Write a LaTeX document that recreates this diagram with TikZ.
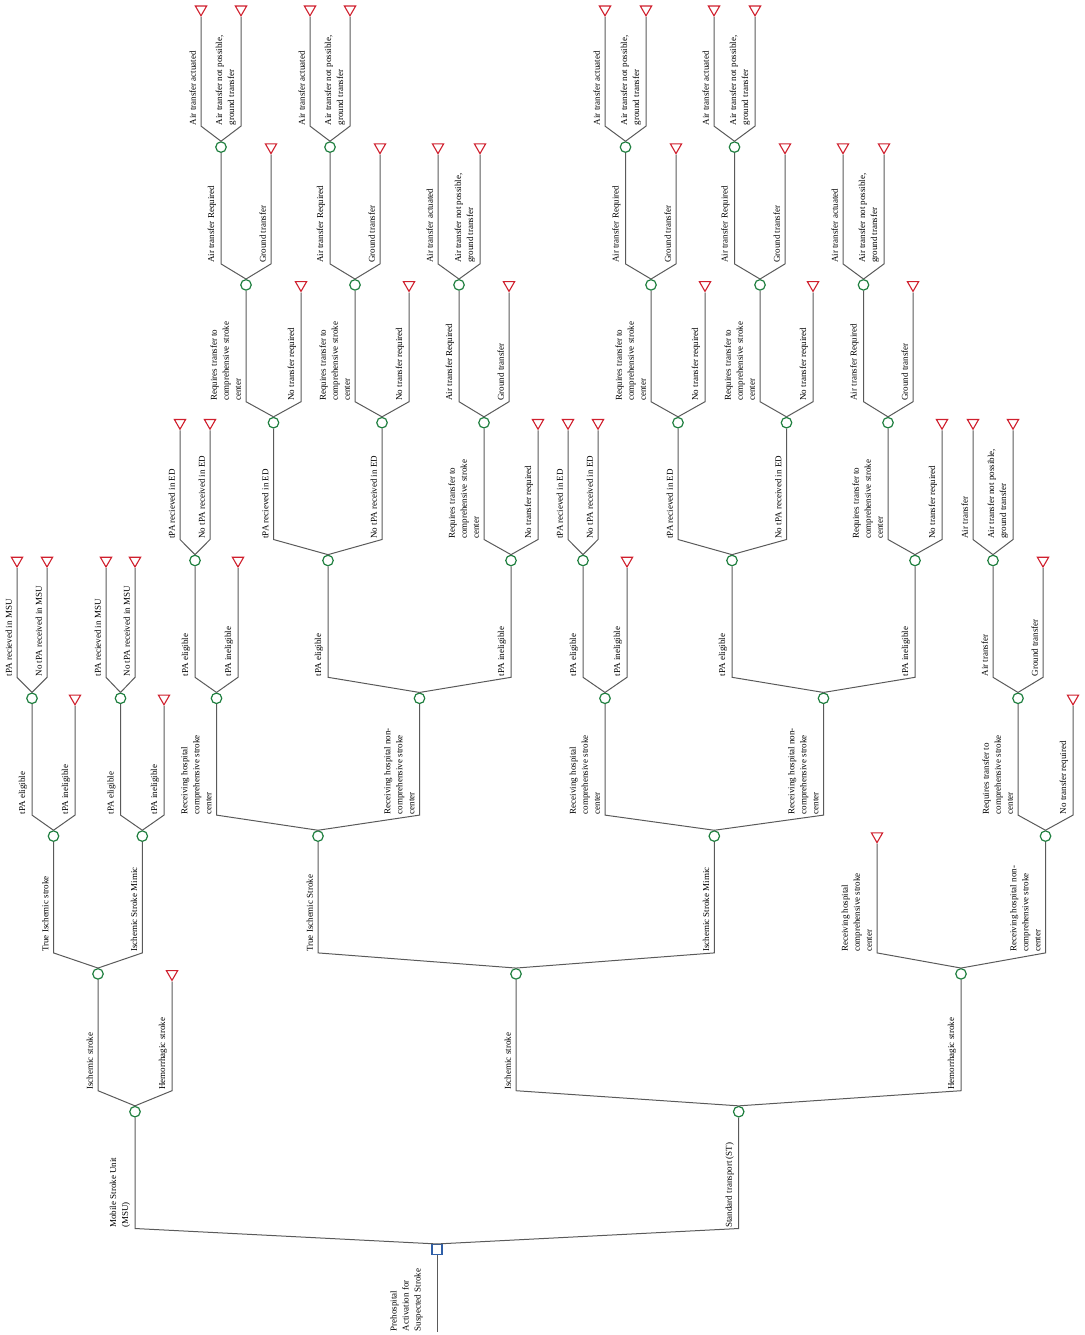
\documentclass[tikz,border=0pt]{standalone}
\usepackage{fontspec}
\setmainfont{Liberation Serif}
\usepackage{tikz}
\usetikzlibrary{shapes,arrows}
\usetikzlibrary{shapes.geometric}
\usetikzlibrary{calc}
\definecolor{chancegreen}{HTML}{1F7F3F}
\definecolor{termred}{HTML}{D0202E}
\definecolor{decblue}{HTML}{2F5FA8}
\definecolor{linegray}{HTML}{5A5A5A}
\tikzstyle{decision} = [rectangle, draw=decblue, fill=white, minimum size=10pt, inner sep=0pt, line width=1.1pt]
\tikzstyle{chance} = [circle, draw=chancegreen, fill=white, minimum size=10.5pt, inner sep=0pt, line width=1.2pt]
\tikzstyle{terminal} = [regular polygon, regular polygon sides=3, shape border rotate=180, draw=termred, fill=white, minimum size=13pt, inner sep=0pt, line width=1.1pt]
\tikzstyle{branch} = [draw=linegray, line width=1pt]
\tikzstyle{branchtext} = [rotate=90, anchor=south west, inner xsep=0.5pt, inner ysep=4.5pt, align=left, font=\fontsize{9}{12}\selectfont]

\begin{document}
\begin{tikzpicture}[x=1pt, y=-1pt]
    \useasboundingbox (0,0) rectangle (1084,1335);
    % heights where the branches bend
    \coordinate (b0) at (0,1228.5);
    \coordinate (b1) at (0,1090.7);
    \coordinate (b2) at (0,952.9);
    \coordinate (b3) at (0,815.1);
    \coordinate (b4) at (0,677.3);
    \coordinate (b5) at (0,539.5);
    \coordinate (b6) at (0,401.7);
    \coordinate (b7) at (0,263.9);
    \coordinate (b8) at (0,126.1);

    % decision
    \node [decision, name=root] at (437,1249.5) {};
    \coordinate (start) at (437,1332);
    \node [chance, name=msu] at (135,1111.7) {};
    \node [chance, name=st] at (738.7,1111.7) {};

    % level 2
    \node [chance, name=isc1] at (98,973.9) {};
    \node [terminal, name=hem1] at (172,973.9) {};
    \node [chance, name=isc2] at (516,973.9) {};
    \node [chance, name=hem2] at (961,973.9) {};

    % level 3
    \node [chance, name=tis1] at (53.5,836.1) {};
    \node [chance, name=mim1] at (142.3,836.1) {};
    \node [chance, name=tis2] at (318,836.1) {};
    \node [chance, name=mim2] at (714.3,836.1) {};
    \node [terminal, name=comph] at (877,836.1) {};
    \node [chance, name=ncomph] at (1045.5,836.1) {};

    % level 4
    \node [chance, name=tel1] at (32,698.3) {};
    \node [terminal, name=tin1] at (75,698.3) {};
    \node [chance, name=tel2] at (120.5,698.3) {};
    \node [terminal, name=tin2] at (164,698.3) {};
    \node [chance, name=comp2] at (216.5,698.3) {};
    \node [chance, name=ncomp2] at (419.5,698.3) {};
    \node [chance, name=comp3] at (605,698.3) {};
    \node [chance, name=ncomp3] at (823.5,698.3) {};
    \node [chance, name=rqH] at (1018,698.3) {};
    \node [terminal, name=ntH] at (1073,698.3) {};

    % level 5
    \node [terminal, name=tr1] at (17,560.5) {};
    \node [terminal, name=tn1] at (47,560.5) {};
    \node [terminal, name=tr2] at (106,560.5) {};
    \node [terminal, name=tn2] at (135,560.5) {};
    \node [chance, name=tel3] at (195,560.5) {};
    \node [terminal, name=tin3] at (238,560.5) {};
    \node [chance, name=tel4] at (328,560.5) {};
    \node [chance, name=tin4] at (511,560.5) {};
    \node [chance, name=tel5] at (583,560.5) {};
    \node [terminal, name=tin5] at (627,560.5) {};
    \node [chance, name=tel6] at (732,560.5) {};
    \node [chance, name=tin6] at (915,560.5) {};
    \node [chance, name=airH] at (993,560.5) {};
    \node [terminal, name=gtH] at (1043,560.5) {};

    % level 6
    \node [terminal, name=tr3] at (180,422.7) {};
    \node [terminal, name=tn3] at (210,422.7) {};
    \node [chance, name=trA] at (273.5,422.7) {};
    \node [chance, name=tnA] at (382,422.7) {};
    \node [chance, name=rqC] at (484,422.7) {};
    \node [terminal, name=ntC] at (538,422.7) {};
    \node [terminal, name=tr5] at (568,422.7) {};
    \node [terminal, name=tn5] at (598,422.7) {};
    \node [chance, name=trD] at (678,422.7) {};
    \node [chance, name=tnD] at (786.5,422.7) {};
    \node [chance, name=rqF] at (888,422.7) {};
    \node [terminal, name=ntF] at (942,422.7) {};
    \node [terminal, name=acH] at (973,422.7) {};
    \node [terminal, name=npH] at (1013,422.7) {};

    % level 7
    \node [chance, name=rqA] at (246,284.9) {};
    \node [terminal, name=ntA] at (301,284.9) {};
    \node [chance, name=rqB] at (355,284.9) {};
    \node [terminal, name=ntB] at (409,284.9) {};
    \node [chance, name=arC] at (459,284.9) {};
    \node [terminal, name=gtC] at (509,284.9) {};
    \node [chance, name=rqD] at (651,284.9) {};
    \node [terminal, name=ntD] at (705,284.9) {};
    \node [chance, name=rqE] at (760,284.9) {};
    \node [terminal, name=ntE] at (813,284.9) {};
    \node [chance, name=arF] at (863.5,284.9) {};
    \node [terminal, name=gtF] at (913,284.9) {};

    % level 8
    \node [chance, name=arA] at (221,147.1) {};
    \node [terminal, name=gtA] at (271,147.1) {};
    \node [chance, name=arB] at (330,147.1) {};
    \node [terminal, name=gtB] at (380,147.1) {};
    \node [terminal, name=acC] at (438,147.1) {};
    \node [terminal, name=npC] at (480,147.1) {};
    \node [chance, name=arD] at (625.5,147.1) {};
    \node [terminal, name=gtD] at (676,147.1) {};
    \node [chance, name=arE] at (734.5,147.1) {};
    \node [terminal, name=gtE] at (785,147.1) {};
    \node [terminal, name=acF] at (843,147.1) {};
    \node [terminal, name=npF] at (884,147.1) {};

    % level 9
    \node [terminal, name=acA] at (201,9.3) {};
    \node [terminal, name=npA] at (241,9.3) {};
    \node [terminal, name=acB] at (310,9.3) {};
    \node [terminal, name=npB] at (350,9.3) {};
    \node [terminal, name=acD] at (605,9.3) {};
    \node [terminal, name=npD] at (646,9.3) {};
    \node [terminal, name=acE] at (714,9.3) {};
    \node [terminal, name=npE] at (755,9.3) {};

    % branches
    \draw [branch] (root.south) -- (start) node [branchtext, inner ysep=14pt] {Prehospital\\Activation for\\Suspected Stroke};
    \draw [branch] (root.north) -- (msu |- b0) node [branchtext] {Mobile Stroke Unit\\(MSU)} -- (msu);
    \draw [branch] (root.north) -- (st |- b0) node [branchtext] {Standard transport (ST)} -- (st);

    \draw [branch] (msu.north) -- (isc1 |- b1) node [branchtext] {Ischemic stroke} -- (isc1);
    \draw [branch] (msu.north) -- (hem1 |- b1) node [branchtext] {Hemorrhagic stroke} -- (hem1);
    \draw [branch] (st.north) -- (isc2 |- b1) node [branchtext] {Ischemic stroke} -- (isc2);
    \draw [branch] (st.north) -- (hem2 |- b1) node [branchtext] {Hemorrhagic stroke} -- (hem2);

    \draw [branch] (isc1.north) -- (tis1 |- b2) node [branchtext] {True Ischemic stroke} -- (tis1);
    \draw [branch] (isc1.north) -- (mim1 |- b2) node [branchtext] {Ischemic Stroke Mimic} -- (mim1);
    \draw [branch] (isc2.north) -- (tis2 |- b2) node [branchtext] {True Ischemic Stroke} -- (tis2);
    \draw [branch] (isc2.north) -- (mim2 |- b2) node [branchtext] {Ischemic Stroke Mimic} -- (mim2);
    \draw [branch] (hem2.north) -- (comph |- b2) node [branchtext] {Receiving hospital\\comprehensive stroke\\center} -- (comph);
    \draw [branch] (hem2.north) -- (ncomph |- b2) node [branchtext] {Receiving hospital non-\\comprehensive stroke\\center} -- (ncomph);

    \draw [branch] (tis1.north) -- (tel1 |- b3) node [branchtext] {tPA eligible} -- (tel1);
    \draw [branch] (tis1.north) -- (tin1 |- b3) node [branchtext] {tPA ineligible} -- (tin1);
    \draw [branch] (mim1.north) -- (tel2 |- b3) node [branchtext] {tPA eligible} -- (tel2);
    \draw [branch] (mim1.north) -- (tin2 |- b3) node [branchtext] {tPA ineligible} -- (tin2);
    \draw [branch] (tis2.north) -- (comp2 |- b3) node [branchtext] {Receiving hospital\\comprehensive stroke\\center} -- (comp2);
    \draw [branch] (tis2.north) -- (ncomp2 |- b3) node [branchtext] {Receiving hospital non-\\comprehensive stroke\\center} -- (ncomp2);
    \draw [branch] (mim2.north) -- (comp3 |- b3) node [branchtext] {Receiving hospital\\comprehensive stroke\\center} -- (comp3);
    \draw [branch] (mim2.north) -- (ncomp3 |- b3) node [branchtext] {Receiving hospital non-\\comprehensive stroke\\center} -- (ncomp3);
    \draw [branch] (ncomph.north) -- (rqH |- b3) node [branchtext] {Requires transfer to\\comprehensive stroke\\center} -- (rqH);
    \draw [branch] (ncomph.north) -- (ntH |- b3) node [branchtext] {No transfer required} -- (ntH);

    \draw [branch] (tel1.north) -- (tr1 |- b4) node [branchtext] {tPA recieved in MSU} -- (tr1);
    \draw [branch] (tel1.north) -- (tn1 |- b4) node [branchtext] {No tPA received in MSU} -- (tn1);
    \draw [branch] (tel2.north) -- (tr2 |- b4) node [branchtext] {tPA recieved in MSU} -- (tr2);
    \draw [branch] (tel2.north) -- (tn2 |- b4) node [branchtext] {No tPA received in MSU} -- (tn2);
    \draw [branch] (comp2.north) -- (tel3 |- b4) node [branchtext] {tPA eligible} -- (tel3);
    \draw [branch] (comp2.north) -- (tin3 |- b4) node [branchtext] {tPA ineligible} -- (tin3);
    \draw [branch] (ncomp2.north) -- (tel4 |- b4) node [branchtext] {tPA eligible} -- (tel4);
    \draw [branch] (ncomp2.north) -- (tin4 |- b4) node [branchtext] {tPA ineligible} -- (tin4);
    \draw [branch] (comp3.north) -- (tel5 |- b4) node [branchtext] {tPA eligible} -- (tel5);
    \draw [branch] (comp3.north) -- (tin5 |- b4) node [branchtext] {tPA ineligible} -- (tin5);
    \draw [branch] (ncomp3.north) -- (tel6 |- b4) node [branchtext] {tPA eligible} -- (tel6);
    \draw [branch] (ncomp3.north) -- (tin6 |- b4) node [branchtext] {tPA ineligible} -- (tin6);
    \draw [branch] (rqH.north) -- (airH |- b4) node [branchtext] {Air transfer} -- (airH);
    \draw [branch] (rqH.north) -- (gtH |- b4) node [branchtext] {Ground transfer} -- (gtH);

    \draw [branch] (tel3.north) -- (tr3 |- b5) node [branchtext] {tPA recieved in ED} -- (tr3);
    \draw [branch] (tel3.north) -- (tn3 |- b5) node [branchtext] {No tPA received in ED} -- (tn3);
    \draw [branch] (tel4.north) -- (trA |- b5) node [branchtext] {tPA recieved in ED} -- (trA);
    \draw [branch] (tel4.north) -- (tnA |- b5) node [branchtext] {No tPA received in ED} -- (tnA);
    \draw [branch] (tin4.north) -- (rqC |- b5) node [branchtext] {Requires transfer to\\comprehensive stroke\\center} -- (rqC);
    \draw [branch] (tin4.north) -- (ntC |- b5) node [branchtext] {No transfer required} -- (ntC);
    \draw [branch] (tel5.north) -- (tr5 |- b5) node [branchtext] {tPA recieved in ED} -- (tr5);
    \draw [branch] (tel5.north) -- (tn5 |- b5) node [branchtext] {No tPA received in ED} -- (tn5);
    \draw [branch] (tel6.north) -- (trD |- b5) node [branchtext] {tPA recieved in ED} -- (trD);
    \draw [branch] (tel6.north) -- (tnD |- b5) node [branchtext] {No tPA received in ED} -- (tnD);
    \draw [branch] (tin6.north) -- (rqF |- b5) node [branchtext] {Requires transfer to\\comprehensive stroke\\center} -- (rqF);
    \draw [branch] (tin6.north) -- (ntF |- b5) node [branchtext] {No transfer required} -- (ntF);
    \draw [branch] (airH.north) -- (acH |- b5) node [branchtext] {Air transfer} -- (acH);
    \draw [branch] (airH.north) -- (npH |- b5) node [branchtext] {Air transfer not possible,\\ground transfer} -- (npH);

    \draw [branch] (trA.north) -- (rqA |- b6) node [branchtext] {Requires transfer to\\comprehensive stroke\\center} -- (rqA);
    \draw [branch] (trA.north) -- (ntA |- b6) node [branchtext] {No transfer required} -- (ntA);
    \draw [branch] (tnA.north) -- (rqB |- b6) node [branchtext] {Requires transfer to\\comprehensive stroke\\center} -- (rqB);
    \draw [branch] (tnA.north) -- (ntB |- b6) node [branchtext] {No transfer required} -- (ntB);
    \draw [branch] (rqC.north) -- (arC |- b6) node [branchtext] {Air transfer Required} -- (arC);
    \draw [branch] (rqC.north) -- (gtC |- b6) node [branchtext] {Ground transfer} -- (gtC);
    \draw [branch] (trD.north) -- (rqD |- b6) node [branchtext] {Requires transfer to\\comprehensive stroke\\center} -- (rqD);
    \draw [branch] (trD.north) -- (ntD |- b6) node [branchtext] {No transfer required} -- (ntD);
    \draw [branch] (tnD.north) -- (rqE |- b6) node [branchtext] {Requires transfer to\\comprehensive stroke\\center} -- (rqE);
    \draw [branch] (tnD.north) -- (ntE |- b6) node [branchtext] {No transfer required} -- (ntE);
    \draw [branch] (rqF.north) -- (arF |- b6) node [branchtext] {Air transfer Required} -- (arF);
    \draw [branch] (rqF.north) -- (gtF |- b6) node [branchtext] {Ground transfer} -- (gtF);

    \draw [branch] (rqA.north) -- (arA |- b7) node [branchtext] {Air transfer Required} -- (arA);
    \draw [branch] (rqA.north) -- (gtA |- b7) node [branchtext] {Ground transfer} -- (gtA);
    \draw [branch] (rqB.north) -- (arB |- b7) node [branchtext] {Air transfer Required} -- (arB);
    \draw [branch] (rqB.north) -- (gtB |- b7) node [branchtext] {Ground transfer} -- (gtB);
    \draw [branch] (arC.north) -- (acC |- b7) node [branchtext] {Air transfer actuated} -- (acC);
    \draw [branch] (arC.north) -- (npC |- b7) node [branchtext] {Air transfer not possible,\\ground transfer} -- (npC);
    \draw [branch] (rqD.north) -- (arD |- b7) node [branchtext] {Air transfer Required} -- (arD);
    \draw [branch] (rqD.north) -- (gtD |- b7) node [branchtext] {Ground transfer} -- (gtD);
    \draw [branch] (rqE.north) -- (arE |- b7) node [branchtext] {Air transfer Required} -- (arE);
    \draw [branch] (rqE.north) -- (gtE |- b7) node [branchtext] {Ground transfer} -- (gtE);
    \draw [branch] (arF.north) -- (acF |- b7) node [branchtext] {Air transfer actuated} -- (acF);
    \draw [branch] (arF.north) -- (npF |- b7) node [branchtext] {Air transfer not possible,\\ground transfer} -- (npF);

    \draw [branch] (arA.north) -- (acA |- b8) node [branchtext] {Air transfer actuated} -- (acA);
    \draw [branch] (arA.north) -- (npA |- b8) node [branchtext] {Air transfer not possible,\\ground transfer} -- (npA);
    \draw [branch] (arB.north) -- (acB |- b8) node [branchtext] {Air transfer actuated} -- (acB);
    \draw [branch] (arB.north) -- (npB |- b8) node [branchtext] {Air transfer not possible,\\ground transfer} -- (npB);
    \draw [branch] (arD.north) -- (acD |- b8) node [branchtext] {Air transfer actuated} -- (acD);
    \draw [branch] (arD.north) -- (npD |- b8) node [branchtext] {Air transfer not possible,\\ground transfer} -- (npD);
    \draw [branch] (arE.north) -- (acE |- b8) node [branchtext] {Air transfer actuated} -- (acE);
    \draw [branch] (arE.north) -- (npE |- b8) node [branchtext] {Air transfer not possible,\\ground transfer} -- (npE);
\end{tikzpicture}
\end{document}
